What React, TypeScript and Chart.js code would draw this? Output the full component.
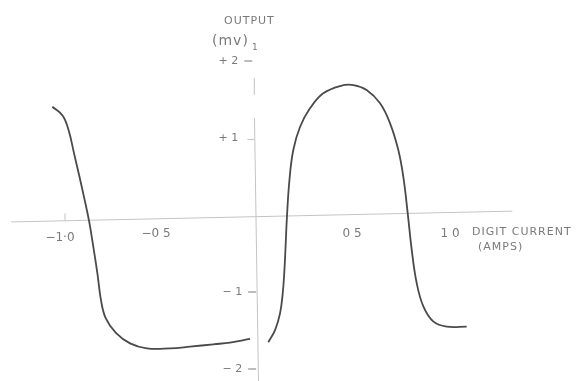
import React, { useEffect, useRef } from "react";
import { Chart, registerables } from "chart.js";

Chart.register(...registerables);

// Output voltage (mV) against digit current (A), measured as two branches.
const leftX = [-1.066, -1.012, -0.98, -0.952, -0.924, -0.898, -0.874, -0.852, -0.83, -0.813, -0.788, -0.735, -0.661, -0.574, -0.453, -0.349, -0.227, -0.141, -0.036];
const leftY = [1.406, 1.29, 1.09, 0.79, 0.49, 0.2, -0.087, -0.42, -0.78, -1.1, -1.34, -1.53, -1.667, -1.732, -1.732, -1.71, -1.679, -1.658, -1.61];
const rightX = [0.059, 0.094, 0.12, 0.134, 0.143, 0.149, 0.156, 0.169, 0.189, 0.224, 0.276, 0.345, 0.432, 0.502, 0.571, 0.641, 0.693, 0.736, 0.762, 0.785, 0.806, 0.832, 0.867, 0.919, 0.988, 1.092];
const rightY = [-1.652, -1.494, -1.277, -1.017, -0.71, -0.4, -0.022, 0.455, 0.844, 1.143, 1.385, 1.58, 1.675, 1.688, 1.623, 1.45, 1.19, 0.844, 0.497, 0.022, -0.455, -0.887, -1.19, -1.385, -1.45, -1.45];

const xTickValues = [-1.0, -0.5, 0.5, 1.0];
const xTickLabels = ["−1·0", "−0 5", "0 5", "1 0"];
const yTickValues = [2, 1, -1, -2];
const yTickLabels = ["+ 2", "+ 1", "− 1", "− 2"];

const xTitle = "DIGIT CURRENT";
const xUnit = "(AMPS)";
const yTitle = "OUTPUT";
const yUnit = "(mv)";

const INK = "#4a4a4a";
const AXIS = "#c4c4c4";
const TEXT = "#7a7a7a";
const FONT = "'DejaVu Sans', sans-serif";

const axesPlugin = {
  id: "handAxes",
  beforeDatasetsDraw(chart: any) {
    const { ctx, scales } = chart;
    const xs = scales.x;
    const ys = scales.y;
    const px = (v: number) => xs.getPixelForValue(v);
    const py = (v: number) => ys.getPixelForValue(v);
    ctx.save();
    ctx.strokeStyle = AXIS;
    ctx.lineWidth = 1;

    // horizontal axis, slightly sloping like a hand-ruled line
    ctx.beginPath();
    ctx.moveTo(px(-1.28), py(-0.09));
    ctx.lineTo(px(1.33), py(0.05));
    ctx.stroke();

    // vertical axis, broken near the top
    ctx.beginPath();
    ctx.moveTo(px(-0.014), py(1.78));
    ctx.lineTo(px(-0.014), py(1.56));
    ctx.moveTo(px(-0.013), py(1.26));
    ctx.lineTo(px(0.008), py(-2.2));
    ctx.stroke();

    // tick at -1.0
    ctx.beginPath();
    ctx.moveTo(px(-1.0), py(-0.08));
    ctx.lineTo(px(-1.0), py(0.02));
    ctx.stroke();

    // small foot of the +1 mark
    ctx.beginPath();
    ctx.moveTo(px(-0.05), py(0.98));
    ctx.lineTo(px(-0.013), py(0.98));
    ctx.stroke();

    ctx.fillStyle = TEXT;
    ctx.textBaseline = "middle";
    ctx.textAlign = "center";
    ctx.font = `12px ${FONT}`;

    // x tick labels
    const xLabelOffsets = [-5, -5, -1, 1];
    xTickValues.forEach((v, i) => {
      const y = i === 0 ? py(-0.3) : py(-0.25);
      ctx.fillText(xTickLabels[i], px(v) + xLabelOffsets[i], y);
    });

    // y tick labels with dashes
    ctx.font = `11px ${FONT}`;
    ctx.textAlign = "right";
    yTickValues.forEach((v, i) => {
      const y = py(v);
      const axisX = px(v > 0 ? -0.014 : 0.006);
      ctx.fillText(yTickLabels[i], axisX - 16, y);
      if (v !== 1) {
        ctx.beginPath();
        ctx.strokeStyle = TEXT;
        ctx.moveTo(axisX - 10, y);
        ctx.lineTo(axisX - 2, y);
        ctx.stroke();
      }
    });

    // axis titles
    ctx.textAlign = "left";
    ctx.font = `11px ${FONT}`;
    (ctx as any).letterSpacing = "1px";
    ctx.fillText(xTitle, 472, py(-0.22));
    ctx.fillText(xUnit, 478, py(-0.42));
    ctx.fillText(yTitle, 224, 21);
    ctx.font = `14px ${FONT}`;
    ctx.fillText(yUnit, 212, 41);
    (ctx as any).letterSpacing = "0px";
    ctx.font = `9px ${FONT}`;
    ctx.fillText("1", 252, 48);
    ctx.restore();
  },
};

export default function App() {
  const canvasRef = useRef<HTMLCanvasElement | null>(null);

  useEffect(() => {
    const canvas = canvasRef.current;
    if (!canvas) return;
    const toPoints = (xs: number[], ys: number[]) => xs.map((x, i) => ({ x, y: ys[i] }));
    const line = {
      showLine: true,
      borderColor: INK,
      borderWidth: 1.8,
      pointRadius: 0,
      tension: 0.4,
    };
    const chart = new Chart(canvas, {
      type: "scatter",
      data: {
        datasets: [
          { data: toPoints(leftX, leftY), ...line },
          { data: toPoints(rightX, rightY), ...line },
        ],
      },
      options: {
        animation: false,
        responsive: false,
        maintainAspectRatio: false,
        layout: { padding: 0 },
        plugins: { legend: { display: false }, tooltip: { enabled: false } },
        scales: {
          x: { type: "linear", display: false, min: -257 / 192, max: 320 / 192 },
          y: { type: "linear", display: false, min: -166 / 77, max: 215 / 77 },
        },
      },
      plugins: [axesPlugin],
    });
    return () => chart.destroy();
  }, []);

  return (
    <div style={{ position: "fixed", left: 0, top: 0, width: 577, height: 381, background: "#fff" }}>
      <canvas ref={canvasRef} width={577} height={381} style={{ display: "block" }} />
    </div>
  );
}
